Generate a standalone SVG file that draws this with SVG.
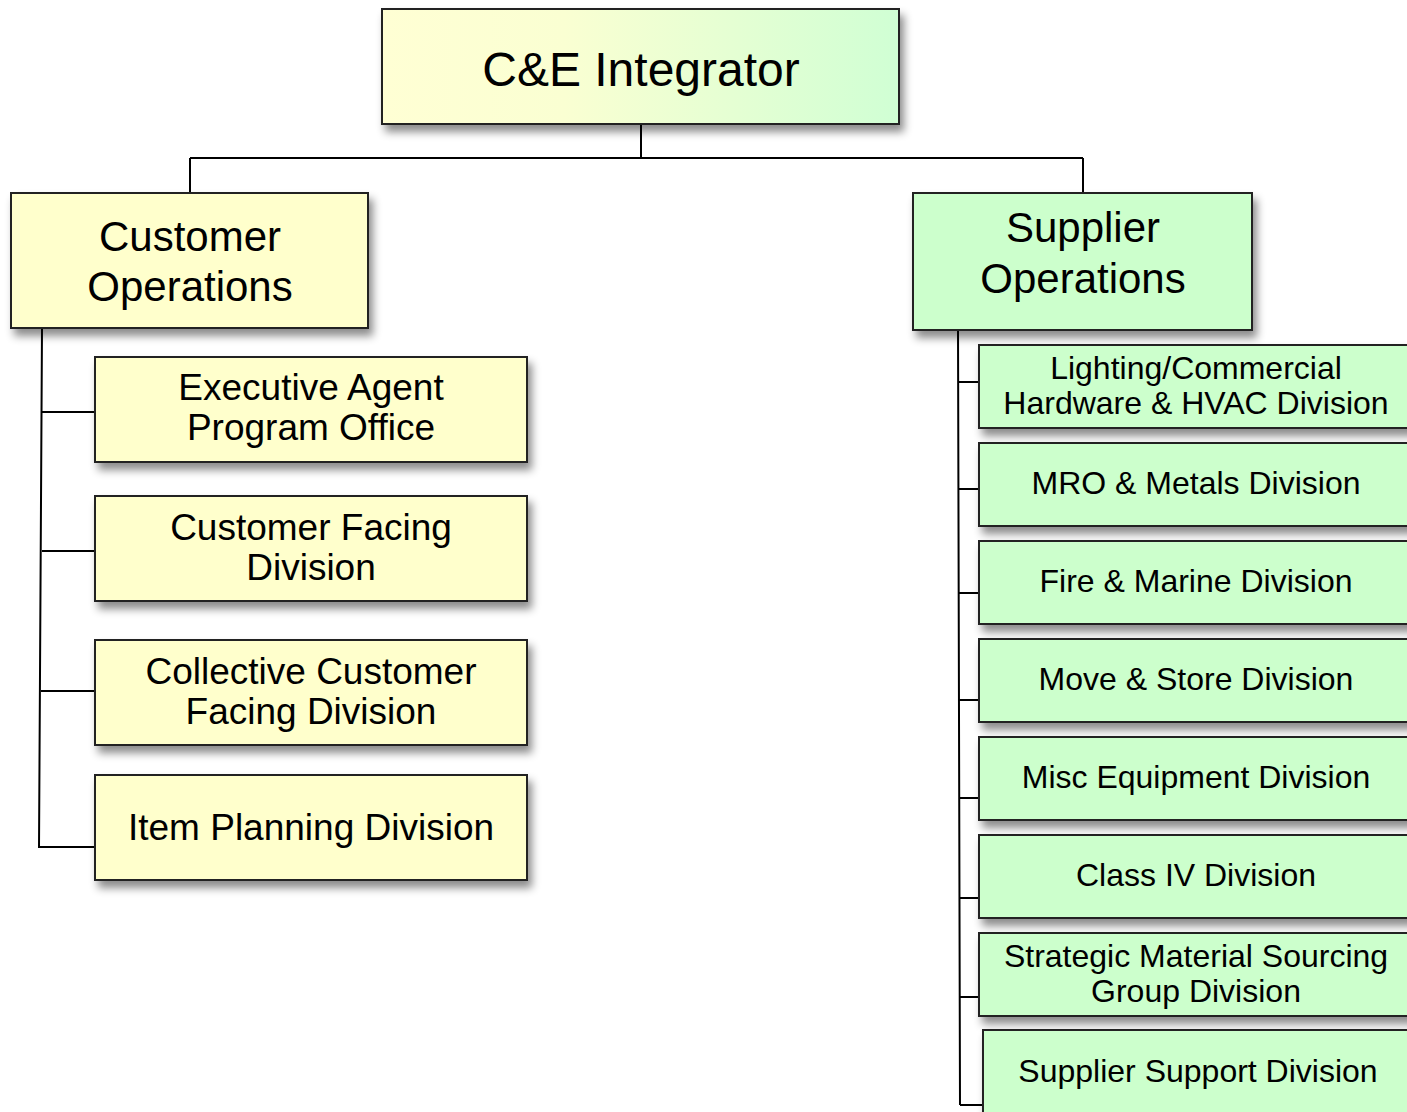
<svg xmlns="http://www.w3.org/2000/svg" width="1407" height="1112" viewBox="0 0 1407 1112">
<defs>
<linearGradient id="gTop" x1="0" y1="0" x2="1" y2="0">
<stop offset="0" stop-color="#FFFFD4"/>
<stop offset="0.35" stop-color="#FAFFD2"/>
<stop offset="1" stop-color="#D0FFD4"/>
</linearGradient>
<filter id="sh" x="-10%" y="-10%" width="125%" height="140%">
<feDropShadow dx="4" dy="7" stdDeviation="4" flood-color="#000" flood-opacity="0.45"/>
</filter>
</defs>
<style>
.box{stroke:#222;stroke-width:2;filter:url(#sh)}
.y{fill:#FFFFCC}
.g{fill:#CCFFCC}
.t{font-family:"Liberation Sans",Arial,sans-serif;fill:#000;text-anchor:middle}
.c{stroke:#000;stroke-width:2;fill:none}
</style>
<rect width="1407" height="1112" fill="#fff"/>
<g id="connectors">
<path class="c" d="M641 124V158M190 158H1083M190 158V193M1083 158V193"/>
<path class="c" d="M42 328L39 848M41 412H95M42 551H95M41 691H95M39 847H95"/>
<path class="c" d="M958 326L960 1105M958 382H979M958 489H979M959 593H979M959 700H979M959 798H979M960 898H979M960 997H979M960 1105H983"/>
</g>
<g id="n-ce">
<rect class="box" x="382" y="9" width="517" height="115" fill="url(#gTop)"/>
<text class="t" x="641" y="86" font-size="48">C&amp;E Integrator</text>
</g>
<g id="n-cust">
<rect class="box y" x="11" y="193" width="357" height="135"/>
<text class="t" x="190" y="251" font-size="42">Customer</text>
<text class="t" x="190" y="301" font-size="42">Operations</text>
</g>
<g id="n-supp">
<rect class="box g" x="913" y="193" width="339" height="137"/>
<text class="t" x="1083" y="242" font-size="42">Supplier</text>
<text class="t" x="1083" y="293" font-size="42">Operations</text>
</g>
<g id="n-exec">
<rect class="box y" x="95" y="357" width="432" height="105"/>
<text class="t" x="311" y="400" font-size="37">Executive Agent</text>
<text class="t" x="311" y="440" font-size="37">Program Office</text>
</g>
<g id="n-cfd">
<rect class="box y" x="95" y="496" width="432" height="105"/>
<text class="t" x="311" y="540" font-size="37">Customer Facing</text>
<text class="t" x="311" y="580" font-size="37">Division</text>
</g>
<g id="n-ccfd">
<rect class="box y" x="95" y="640" width="432" height="105"/>
<text class="t" x="311" y="684" font-size="37">Collective Customer</text>
<text class="t" x="311" y="724" font-size="37">Facing Division</text>
</g>
<g id="n-ipd">
<rect class="box y" x="95" y="775" width="432" height="105"/>
<text class="t" x="311" y="840" font-size="37">Item Planning Division</text>
</g>
<g id="n-light">
<rect class="box g" x="979" y="345" width="440" height="83"/>
<text class="t" x="1196" y="379" font-size="32">Lighting/Commercial</text>
<text class="t" x="1196" y="414" font-size="32">Hardware &amp; HVAC Division</text>
</g>
<g id="n-mro">
<rect class="box g" x="979" y="443" width="440" height="83"/>
<text class="t" x="1196" y="494" font-size="32">MRO &amp; Metals Division</text>
</g>
<g id="n-fire">
<rect class="box g" x="979" y="541" width="440" height="83"/>
<text class="t" x="1196" y="592" font-size="32">Fire &amp; Marine Division</text>
</g>
<g id="n-move">
<rect class="box g" x="979" y="639" width="440" height="83"/>
<text class="t" x="1196" y="690" font-size="32">Move &amp; Store Division</text>
</g>
<g id="n-misc">
<rect class="box g" x="979" y="737" width="440" height="83"/>
<text class="t" x="1196" y="788" font-size="32">Misc Equipment Division</text>
</g>
<g id="n-c4">
<rect class="box g" x="979" y="835" width="440" height="83"/>
<text class="t" x="1196" y="886" font-size="32">Class IV Division</text>
</g>
<g id="n-smsg">
<rect class="box g" x="979" y="933" width="440" height="83"/>
<text class="t" x="1196" y="967" font-size="32">Strategic Material Sourcing</text>
<text class="t" x="1196" y="1002" font-size="32">Group Division</text>
</g>
<g id="n-ssd">
<rect class="box g" x="983" y="1030" width="440" height="100"/>
<text class="t" x="1198" y="1082" font-size="32">Supplier Support Division</text>
</g>
</svg>
